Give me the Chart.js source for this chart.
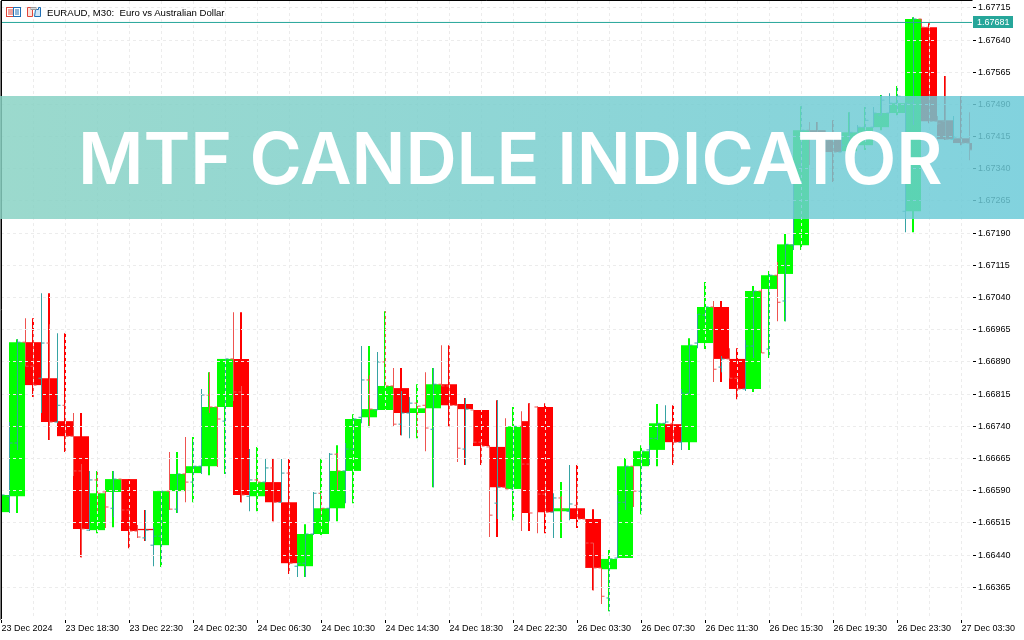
<!DOCTYPE html>
<html>
<head>
<meta charset="utf-8">
<title>EURAUD M30</title>
<script src="https://cdn.jsdelivr.net/npm/chart.js@4/dist/chart.umd.min.js"></script>
<style>
  html, body { margin: 0; padding: 0; background: #fff; overflow: hidden; }
  #wrap { position: relative; width: 1024px; height: 640px; }
  #header { position: absolute; left: 47px; top: 7px; font: 9.6px "Liberation Sans", sans-serif; color: #000; white-space: pre; }
  #icons { position: absolute; left: 6px; top: 7px; }
  #banner {
    position: absolute; left: 0; top: 96px; width: 1024px; height: 123px;
    background: linear-gradient(90deg, rgba(136,210,195,.84), rgba(106,202,216,.84));
  }
  #banner div {
    position: absolute; left: 78px; top: 19px; color: #fff; white-space: nowrap;
    font: 600 71px Inter, sans-serif; letter-spacing: -0.1px;
  }
</style>
</head>
<body>
<div id="wrap">
  <canvas id="chart" width="1024" height="640"></canvas>
  <svg id="icons" width="38" height="11">
    <rect x="0.5" y="0.5" width="7" height="9" fill="#fff" stroke="#e0453a"/>
    <rect x="7.5" y="0.5" width="7" height="9" fill="#fff" stroke="#1f6fb5"/>
    <path d="M2 3h5M2 5h5M2 7h5" stroke="#e0453a"/>
    <path d="M9 3h4M9 5h4M9 7h4" stroke="#1f6fb5"/>
    <path d="M21.5 0.5h5v9h-5z" fill="#fde3dc" stroke="#e0453a"/>
    <path d="M29.5 2.5h3v-2h2v9h-6z" fill="#cfe6f7" stroke="#1f6fb5"/>
    <rect x="25" y="0.5" width="5" height="2" fill="#ddd" stroke="#999"/>
  </svg>
  <div id="header">EURAUD, M30:  Euro vs Australian Dollar</div>
  <div id="banner"><div>MTF CANDLE INDICATOR</div></div>
</div>
<script>
// price axis and time axis labels
const priceTicks = [1.67715, 1.67640, 1.67565, 1.67490, 1.67415, 1.67340, 1.67265, 1.67190, 1.67115, 1.67040,
  1.66965, 1.66890, 1.66815, 1.66740, 1.66665, 1.66590, 1.66515, 1.66440, 1.66365];
const timeLabels = ['23 Dec 2024', '23 Dec 18:30', '23 Dec 22:30', '24 Dec 02:30', '24 Dec 06:30', '24 Dec 10:30',
  '24 Dec 14:30', '24 Dec 18:30', '24 Dec 22:30', '26 Dec 03:30', '26 Dec 07:30', '26 Dec 11:30',
  '26 Dec 15:30', '26 Dec 19:30', '26 Dec 23:30', '27 Dec 03:30'];
const currentPrice = 1.67681;

// higher timeframe candles (wide bodies)
const hourOpen = [1.66540,1.66577,1.66936,1.66852,1.66752,1.66717,1.66498,1.66587,1.66617,1.66501,1.66463,1.66589,1.66631,1.66647,1.66785,1.66897,1.66577,1.66610,1.66563,1.66414,1.66489,1.66549,1.66636,1.66761,1.66778,1.66829,1.66771,1.66782,1.66838,1.66792,1.66778,1.66692,1.66594,1.66752,1.66785,1.66542,1.66549,1.66524,1.66407,1.66433,1.66647,1.66685,1.66745,1.66703,1.66934,1.67018,1.66897,1.66827,1.67060,1.67095,1.67162,1.67430,1.67421,1.67381,1.67395,1.67437,1.67470,1.67241,1.67670,1.67453,1.67411,1.67400];
const hourHigh = [1.66580,1.66943,1.66992,1.67050,1.66957,1.66771,1.66636,1.66636,1.66617,1.66545,1.66589,1.66680,1.66715,1.66866,1.66897,1.67006,1.66692,1.66666,1.66664,1.66512,1.66664,1.66696,1.66768,1.66927,1.67008,1.66876,1.66838,1.66876,1.66929,1.66806,1.66778,1.66801,1.66785,1.66794,1.66794,1.66610,1.66650,1.66547,1.66452,1.66666,1.66696,1.66792,1.66789,1.66945,1.67076,1.67032,1.66922,1.67067,1.67102,1.67188,1.67486,1.67449,1.67453,1.67472,1.67484,1.67512,1.67533,1.67693,1.67679,1.67556,1.67509,1.67453];
const hourLow = [1.66540,1.66538,1.66808,1.66708,1.66680,1.66435,1.66491,1.66505,1.66456,1.66473,1.66412,1.66538,1.66563,1.66626,1.66629,1.66563,1.66542,1.66519,1.66396,1.66389,1.66487,1.66519,1.66561,1.66738,1.66778,1.66719,1.66712,1.66598,1.66740,1.66650,1.66650,1.66482,1.66521,1.66496,1.66491,1.66480,1.66503,1.66358,1.66309,1.66433,1.66535,1.66647,1.66650,1.66685,1.66920,1.66843,1.66803,1.66820,1.66899,1.66985,1.67151,1.67407,1.67309,1.67379,1.67384,1.67430,1.67465,1.67192,1.67446,1.67407,1.67395,1.67360];
const hourClose = [1.66580,1.66936,1.66836,1.66750,1.66717,1.66501,1.66584,1.66617,1.66496,1.66498,1.66589,1.66629,1.66647,1.66785,1.66897,1.66580,1.66610,1.66563,1.66421,1.66489,1.66549,1.66636,1.66757,1.66780,1.66834,1.66771,1.66782,1.66838,1.66789,1.66780,1.66694,1.66598,1.66740,1.66538,1.66540,1.66549,1.66524,1.66410,1.66431,1.66647,1.66682,1.66747,1.66703,1.66929,1.67018,1.66897,1.66827,1.67055,1.67092,1.67164,1.67430,1.67421,1.67379,1.67425,1.67437,1.67470,1.67493,1.67689,1.67451,1.67409,1.67400,1.67384];
const shortCandle = 33;   // this candle has only its first half drawn

// M30 bars (thin lines with open/close ticks)
const barOpen = [1.66540,1.66577,1.66701,1.66936,1.66880,1.66852,1.66934,1.66750,1.66789,1.66717,1.66636,1.66498,1.66615,1.66587,1.66549,1.66617,1.66545,1.66496,1.66480,1.66463,1.66484,1.66589,1.66547,1.66629,1.66610,1.66647,1.66813,1.66785,1.66752,1.66897,1.66820,1.66577,1.66615,1.66610,1.66643,1.66563,1.66631,1.66414,1.66421,1.66489,1.66584,1.66549,1.66675,1.66636,1.66687,1.66761,1.66848,1.66778,1.66890,1.66834,1.66745,1.66771,1.66794,1.66789,1.66733,1.66838,1.66834,1.66789,1.66687,1.66778,1.66703,1.66692,1.66561,1.66598,1.66594,1.66740,1.66652,1.66785,1.66582,1.66540,1.66573,1.66542,1.66556,1.66524,1.66468,1.66410,1.66340,1.66433,1.66563,1.66647,1.66589,1.66685,1.66712,1.66747,1.66747,1.66703,1.66817,1.66934,1.66999,1.67018,1.66878,1.66897,1.66852,1.66827,1.66927,1.67055,1.66920,1.67092,1.67032,1.67162,1.67349,1.67430,1.67423,1.67421,1.67407,1.67379,1.67395,1.67395,1.67437,1.67437,1.67465,1.67470,1.67493,1.67241,1.67493,1.67689,1.67670,1.67451,1.67451,1.67409,1.67411,1.67400];
const barHigh = [1.66580,1.66750,1.66943,1.66992,1.66964,1.67050,1.66978,1.66957,1.66817,1.66771,1.66652,1.66636,1.66636,1.66591,1.66636,1.66617,1.66545,1.66510,1.66545,1.66505,1.66589,1.66680,1.66629,1.66715,1.66708,1.66827,1.66866,1.66785,1.66897,1.67006,1.66834,1.66687,1.66617,1.66666,1.66666,1.66664,1.66636,1.66421,1.66489,1.66587,1.66584,1.66678,1.66678,1.66701,1.66757,1.66927,1.66859,1.66913,1.67008,1.66876,1.66822,1.66808,1.66794,1.66866,1.66876,1.66929,1.66929,1.66792,1.66806,1.66778,1.66703,1.66696,1.66801,1.66759,1.66740,1.66775,1.66794,1.66787,1.66612,1.66584,1.66577,1.66650,1.66605,1.66524,1.66468,1.66410,1.66431,1.66580,1.66647,1.66647,1.66682,1.66696,1.66747,1.66789,1.66750,1.66827,1.66929,1.67001,1.67018,1.67032,1.66904,1.66922,1.66855,1.66941,1.67055,1.67060,1.67102,1.67123,1.67164,1.67349,1.67486,1.67449,1.67449,1.67430,1.67453,1.67425,1.67472,1.67442,1.67484,1.67484,1.67512,1.67516,1.67533,1.67493,1.67693,1.67689,1.67679,1.67463,1.67556,1.67463,1.67509,1.67472];
const barLow = [1.66540,1.66538,1.66685,1.66880,1.66808,1.66771,1.66708,1.66747,1.66680,1.66624,1.66435,1.66496,1.66540,1.66503,1.66528,1.66521,1.66456,1.66480,1.66473,1.66414,1.66421,1.66545,1.66538,1.66563,1.66584,1.66629,1.66771,1.66645,1.66629,1.66799,1.66563,1.66542,1.66605,1.66610,1.66519,1.66563,1.66396,1.66389,1.66389,1.66487,1.66533,1.66519,1.66589,1.66561,1.66685,1.66747,1.66740,1.66778,1.66834,1.66740,1.66719,1.66712,1.66715,1.66682,1.66598,1.66834,1.66740,1.66657,1.66650,1.66701,1.66650,1.66482,1.66524,1.66594,1.66575,1.66496,1.66538,1.66491,1.66528,1.66480,1.66521,1.66521,1.66524,1.66410,1.66358,1.66326,1.66309,1.66433,1.66545,1.66552,1.66535,1.66650,1.66708,1.66747,1.66650,1.66685,1.66817,1.66922,1.66980,1.66843,1.66866,1.66852,1.66803,1.66822,1.66899,1.66911,1.66899,1.66985,1.66985,1.67151,1.67337,1.67349,1.67407,1.67379,1.67309,1.67379,1.67384,1.67395,1.67414,1.67437,1.67465,1.67470,1.67477,1.67192,1.67442,1.67670,1.67446,1.67442,1.67407,1.67407,1.67395,1.67360];
const barClose = [1.66580,1.66701,1.66936,1.66880,1.66836,1.66934,1.66750,1.66789,1.66717,1.66636,1.66501,1.66615,1.66584,1.66552,1.66617,1.66545,1.66496,1.66482,1.66498,1.66484,1.66589,1.66547,1.66629,1.66610,1.66647,1.66813,1.66785,1.66757,1.66897,1.66820,1.66580,1.66615,1.66610,1.66643,1.66563,1.66631,1.66421,1.66421,1.66489,1.66584,1.66549,1.66675,1.66636,1.66687,1.66757,1.66848,1.66780,1.66890,1.66834,1.66745,1.66771,1.66794,1.66787,1.66736,1.66838,1.66834,1.66789,1.66689,1.66780,1.66703,1.66694,1.66533,1.66598,1.66594,1.66740,1.66652,1.66538,1.66582,1.66540,1.66573,1.66547,1.66559,1.66524,1.66468,1.66410,1.66344,1.66431,1.66563,1.66647,1.66589,1.66682,1.66712,1.66747,1.66750,1.66703,1.66817,1.66929,1.67001,1.67018,1.66873,1.66897,1.66852,1.66827,1.66927,1.67055,1.66911,1.67092,1.67029,1.67164,1.67349,1.67430,1.67423,1.67421,1.67407,1.67379,1.67395,1.67425,1.67437,1.67453,1.67470,1.67500,1.67493,1.67509,1.67493,1.67689,1.67670,1.67451,1.67446,1.67409,1.67414,1.67400,1.67384];

const BULL = '#00ff00', BEAR = '#ff0000', BAR_UP = '#36a3a3', BAR_DOWN = '#ef5350', TAG = '#26a69a';
const PX_PER_BAR = 8;      // one M30 bar on the screen
const AREA_WIDTH = 971;
const TICK_SHIFT = 0.19;   // open tick left of the bar, close tick right of it

const hourColor = hourClose.map((c, i) => c >= hourOpen[i] ? BULL : BEAR);
const barColor = barClose.map((c, i) => c >= barOpen[i] ? BAR_UP : BAR_DOWN);

// hour candles sit on every second M30 slot
const bodyData = hourOpen.map((o, i) => ({ x: i * 2, y: i === shortCandle ? null : [o, hourClose[i]] }));
const shortData = [{ x: shortCandle * 2 - 0.5, y: [hourOpen[shortCandle], hourClose[shortCandle]] }];
const wickData = hourHigh.map((h, i) => ({ x: i * 2, y: [hourLow[i], h] }));
const lineData = barHigh.map((h, i) => ({ x: i, y: [barLow[i], h] }));
const openTicks = barOpen.map((o, i) => ({ x: i - TICK_SHIFT, y: o }));
const closeTicks = barClose.map((c, i) => ({ x: i + TICK_SHIFT, y: c }));

function hiddenX(min) {
  return { type: 'linear', display: false, min: min, max: min + AREA_WIDTH / PX_PER_BAR, bounds: 'data', offset: false, grid: { offset: false } };
}

const frame = {
  id: 'frame',
  afterDraw(chart) {
    const { ctx, chartArea: a, scales } = chart;
    ctx.save();
    ctx.strokeStyle = '#000';
    ctx.lineWidth = 1;
    ctx.beginPath();
    ctx.moveTo(a.left + 0.5, a.bottom);
    ctx.lineTo(a.left + 0.5, a.top - 0.5);
    ctx.lineTo(a.right, a.top - 0.5);
    ctx.stroke();
    // current price tag
    const y = scales.y.getPixelForValue(currentPrice);
    ctx.fillStyle = TAG;
    ctx.fillRect(a.right + 1, Math.round(y) - 6, 40, 12);
    ctx.fillStyle = '#fff';
    ctx.font = '9px "Liberation Sans"';
    ctx.textBaseline = 'middle';
    ctx.fillText(currentPrice.toFixed(5), a.right + 5, Math.round(y) + 0.5);
    ctx.restore();
  }
};

new Chart(document.getElementById('chart').getContext('2d'), {
  type: 'bar',
  data: {
    datasets: [
      { type: 'bar', data: bodyData, xAxisID: 'xBody', backgroundColor: hourColor, barThickness: 16, grouped: false, inflateAmount: 0, order: 4 },
      { type: 'bar', data: shortData, xAxisID: 'xBody', backgroundColor: BEAR, barThickness: 8, grouped: false, inflateAmount: 0, order: 4 },
      { type: 'bar', data: wickData, xAxisID: 'xBody', backgroundColor: hourColor, barThickness: 2, grouped: false, inflateAmount: 0, order: 3 },
      { type: 'bar', data: lineData, xAxisID: 'x', backgroundColor: barColor, barThickness: 1, grouped: false, inflateAmount: 0, order: 2 },
      { type: 'scatter', data: openTicks, xAxisID: 'x', pointStyle: 'line', pointRadius: 1.5, pointBorderWidth: 1, pointBorderColor: barColor, order: 1 },
      { type: 'scatter', data: closeTicks, xAxisID: 'x', pointStyle: 'line', pointRadius: 1.5, pointBorderWidth: 1, pointBorderColor: barColor, order: 1 },
      { type: 'line', data: [{ x: -1, y: currentPrice }, { x: 122, y: currentPrice }], xAxisID: 'x', borderColor: TAG, borderWidth: 1, pointRadius: 0, order: 0 }
    ]
  },
  options: {
    responsive: false,
    animation: false,
    events: [],
    layout: { autoPadding: false, padding: { left: 1, top: 1, right: 0, bottom: 0 } },
    plugins: { legend: { display: false }, tooltip: { enabled: false } },
    scales: {
      x: {
        type: 'linear',
        position: 'bottom',
        min: -0.0625,
        max: -0.0625 + AREA_WIDTH / PX_PER_BAR,
        bounds: 'data',
        offset: false,
        afterFit(s) { s.height = 21; s.paddingLeft = 0; s.paddingRight = 0; },
        afterBuildTicks(s) {
          const t = [];
          timeLabels.forEach((l, i) => { t.push({ value: i * 8 }); if (i < timeLabels.length - 1) t.push({ value: i * 8 + 4 }); });
          s.ticks = t;
        },
        grid: { offset: false, z: 1, color: '#ececec', tickLength: 4, tickColor: c => c.index % 2 ? 'transparent' : '#000' },
        border: { color: '#000', dash: [3, 3] },
        ticks: {
          autoSkip: false, maxRotation: 0, minRotation: 0, align: 'start', padding: 0, color: '#000',
          font: { family: 'Liberation Sans', size: 9 },
          callback: (v, i) => i % 2 ? '' : timeLabels[i / 2]
        }
      },
      xBody: hiddenX(0),
      y: {
        type: 'linear',
        position: 'right',
        min: 1.66291,
        max: 1.67731,
        bounds: 'data',
        afterFit(s) { s.width = 52; s.paddingTop = 0; s.paddingBottom = 0; },
        afterBuildTicks(s) { s.ticks = priceTicks.map(v => ({ value: v })); },
        grid: { z: 1, color: '#ececec', tickLength: 4, tickColor: '#000' },
        border: { color: '#000', dash: [3, 3] },
        ticks: {
          padding: 2, color: '#000',
          font: { family: 'Liberation Sans', size: 9 },
          callback: v => v.toFixed(5)
        }
      }
    }
  },
  plugins: [frame]
});
</script>
</body>
</html>
